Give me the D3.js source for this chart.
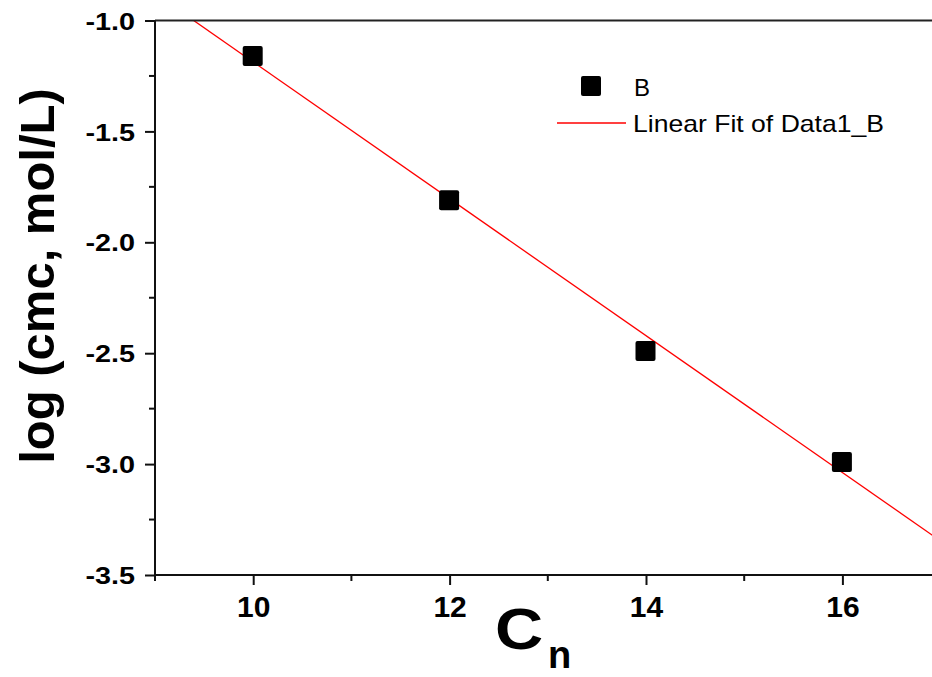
<!DOCTYPE html>
<html>
<head>
<meta charset="utf-8">
<script src="https://cdn.jsdelivr.net/npm/d3@7"></script>
<style>
  html, body { margin: 0; padding: 0; background: #fff; }
  svg { display: block; font-family: "Liberation Sans", Arial, sans-serif; }
</style>
</head>
<body>
<svg id="chart" width="932" height="677"></svg>
<script>
// Alkyl chain length vs. log cmc
const chainLengths = [10, 12, 14, 16];
const logCmc = [-1.16, -1.81, -2.49, -2.99];
const xTickValues = [10, 12, 14, 16];
const xMinorTicks = [9, 11, 13, 15];
const yTickValues = [-1.0, -1.5, -2.0, -2.5, -3.0, -3.5];
const yMinorTicks = [-1.25, -1.75, -2.25, -2.75, -3.25];
const legendLabels = ["B", "Linear Fit of Data1_B"];

const svg = d3.select("#chart");
const W = 932, H = 677;
const plotLeft = 155, plotTop = 20.5, plotBottom = 575;

const x = d3.scaleLinear().domain([9, 17]).range([plotLeft, plotLeft + 8 * 98.2]);
const y = d3.scaleLinear().domain([-3.5, -1.0]).range([plotBottom, plotTop]);

// least-squares fit of the points
const n = chainLengths.length;
const mx = d3.mean(chainLengths), my = d3.mean(logCmc);
let sxy = 0, sxx = 0;
for (let i = 0; i < n; i++) {
  sxy += (chainLengths[i] - mx) * (logCmc[i] - my);
  sxx += (chainLengths[i] - mx) ** 2;
}
const slope = sxy / sxx, intercept = my - slope * mx;

svg.append("defs").append("clipPath").attr("id", "plotClip")
  .append("rect").attr("x", plotLeft).attr("y", plotTop)
  .attr("width", W - plotLeft).attr("height", plotBottom - plotTop);

// fit line
const [x0, x1] = x.domain();
svg.append("line")
  .attr("clip-path", "url(#plotClip)")
  .attr("x1", x(x0)).attr("y1", y(intercept + slope * x0))
  .attr("x2", x(x1)).attr("y2", y(intercept + slope * x1))
  .attr("stroke", "#ff0000").attr("stroke-width", 1.3);

// data markers
const ms = 20;
svg.append("g").selectAll("rect").data(chainLengths).join("rect")
  .attr("x", (d) => x(d) - ms / 2 - 0.5)
  .attr("y", (d, i) => y(logCmc[i]) - ms / 2)
  .attr("width", ms).attr("height", ms).attr("rx", 2)
  .attr("fill", "#000");

// top frame
svg.append("line").attr("x1", plotLeft).attr("x2", W).attr("y1", plotTop).attr("y2", plotTop)
  .attr("stroke", "#222").attr("stroke-width", 2);

// x axis
const xAxis = svg.append("g").attr("transform", `translate(0,${plotBottom})`)
  .call(d3.axisBottom(x).tickValues(xTickValues).tickSize(10).tickPadding(11).tickFormat(d3.format("d")));
xAxis.select(".domain").attr("d", `M${plotLeft},0H${W}`).attr("stroke", "#111").attr("stroke-width", 2);
xAxis.selectAll(".tick line").attr("stroke", "#111").attr("stroke-width", 2);
xAxis.selectAll(".tick text").attr("font-size", 30).attr("font-weight", "bold").attr("fill", "#000");
svg.append("g").selectAll("line").data(xMinorTicks).join("line")
  .attr("x1", (d) => x(d)).attr("x2", (d) => x(d))
  .attr("y1", plotBottom).attr("y2", plotBottom + 6)
  .attr("stroke", "#111").attr("stroke-width", 2);

// y axis
const yAxis = svg.append("g").attr("transform", `translate(${plotLeft},0)`)
  .call(d3.axisLeft(y).tickValues(yTickValues).tickSize(10).tickPadding(10).tickFormat(d3.format(".1f")));
yAxis.select(".domain").attr("d", `M0,${plotTop}V${plotBottom}`).attr("stroke", "#111").attr("stroke-width", 2);
yAxis.selectAll(".tick line").attr("stroke", "#111").attr("stroke-width", 2);
yAxis.selectAll(".tick text")
  .text((d) => d3.format(".1f")(d).replace("\u2212", "-"))
  .attr("font-size", 24).attr("font-weight", "bold").attr("fill", "#000")
  .attr("x", 0).attr("dy", "0.36em")
  .attr("transform", "translate(-20,0) scale(1.2,1)");
svg.append("g").selectAll("line").data(yMinorTicks).join("line")
  .attr("x1", plotLeft - 6).attr("x2", plotLeft)
  .attr("y1", (d) => y(d)).attr("y2", (d) => y(d))
  .attr("stroke", "#111").attr("stroke-width", 2);

// axis titles
svg.append("text")
  .attr("transform", "translate(54,276) rotate(-90)")
  .attr("text-anchor", "middle")
  .attr("font-size", 49).attr("font-weight", "bold")
  .text("log (cmc, mol/L)");

svg.append("text")
  .attr("transform", "translate(495,649) scale(1.15,1)")
  .attr("font-size", 58).attr("font-weight", "bold")
  .text("C");
svg.append("text")
  .attr("x", 548).attr("y", 668)
  .attr("font-size", 38).attr("font-weight", "bold")
  .text("n");

// legend
const lg = svg.append("g");
lg.append("rect").attr("x", 581).attr("y", 76).attr("width", 20).attr("height", 20).attr("rx", 2).attr("fill", "#000");
lg.append("text").attr("x", 634).attr("y", 96).attr("font-size", 24).text(legendLabels[0]);
lg.append("line").attr("x1", 557).attr("x2", 626).attr("y1", 123).attr("y2", 123)
  .attr("stroke", "#ff0000").attr("stroke-width", 1.3);
lg.append("text").attr("x", 633).attr("y", 132).attr("font-size", 24)
  .attr("textLength", 251).attr("lengthAdjust", "spacingAndGlyphs").text(legendLabels[1]);
</script>
</body>
</html>
